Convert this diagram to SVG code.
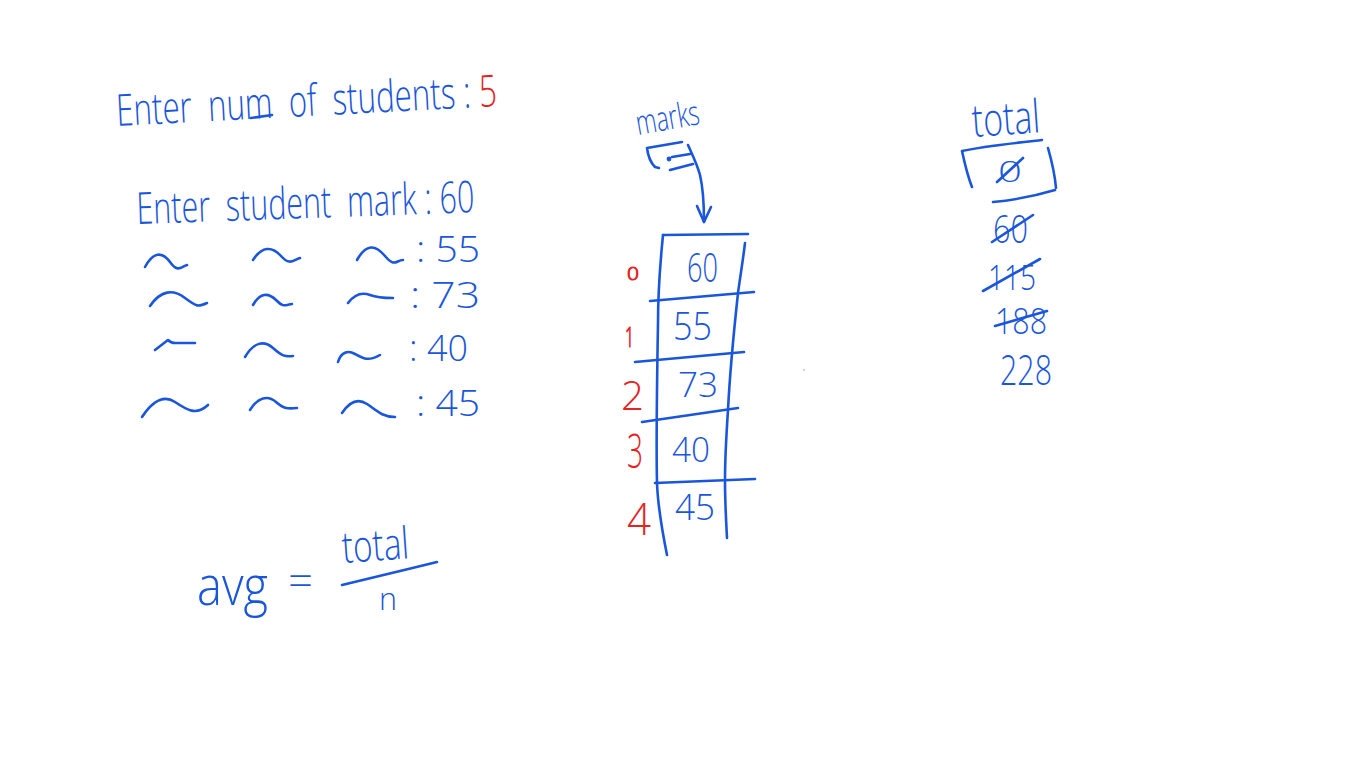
<svg xmlns="http://www.w3.org/2000/svg" width="1366" height="768" viewBox="0 0 1366 768">
<defs>
<style>
.t{font-family:"Open Sans","Liberation Sans",sans-serif;font-weight:300;fill:#1a56db}
.r{font-family:"Open Sans","Liberation Sans",sans-serif;font-weight:300;fill:#e5231f}
.s{fill:none;stroke:#1a56db;stroke-width:2.6;stroke-linecap:round;stroke-linejoin:round}
</style>
<marker id="vhead" viewBox="0 0 20 20" refX="18" refY="10" markerWidth="20" markerHeight="20" markerUnits="userSpaceOnUse" orient="auto">
<path d="M3,3 L18,10 L2,17" fill="none" stroke="#1a56db" stroke-width="2.6" stroke-linecap="round" stroke-linejoin="round"/>
</marker>
</defs>
<rect width="1366" height="768" fill="#ffffff"/>

<g id="prompt-count">
<text class="t" x="117" y="126" font-size="44" textLength="381" lengthAdjust="spacingAndGlyphs" transform="rotate(-3 117 126)">Enter&#160; num&#160; of&#160; students : <tspan class="r">5</tspan></text>
<path class="s" d="M251,118 L272,115"/>
</g>

<g id="prompt-marks">
<text class="t" x="137" y="224" font-size="44" textLength="338" lengthAdjust="spacingAndGlyphs" transform="rotate(-2 137 224)">Enter&#160; student&#160; mark : 60</text>

<path class="s" d="M145,267 C153,252 162,251 170,262 S181,267 187,265"/>
<path class="s" d="M253,260 C262,246 272,246 281,256 S293,260 300,258"/>
<path class="s" d="M357,260 C366,244 375,244 385,256 S396,260 403,260"/>
<text class="t" x="416" y="262" font-size="37" textLength="64" lengthAdjust="spacingAndGlyphs">: 55</text>

<path class="s" d="M150,306 C161,290 173,289 185,298 S198,307 207,303"/>
<path class="s" d="M253,305 C260,293 268,292 276,300 S285,305 292,304"/>
<path class="s" d="M348,303 C354,295 362,292 370,295 S385,298 393,298"/>
<text class="t" x="410" y="308" font-size="36" textLength="70" lengthAdjust="spacingAndGlyphs">: 73</text>

<path class="s" d="M155,350 L168,340 Q171,343 175,343 L195,343"/>
<path class="s" d="M245,357 C254,342 264,340 273,348 S285,357 293,356"/>
<path class="s" d="M338,362 C341,352 348,350 355,354 S368,362 380,355"/>
<text class="t" x="409" y="361" font-size="36" textLength="59" lengthAdjust="spacingAndGlyphs">: 40</text>

<path class="s" d="M142,417 C152,402 163,394 175,402 S196,416 208,405"/>
<path class="s" d="M250,410 C258,397 268,395 276,402 S288,409 297,408"/>
<path class="s" d="M342,413 C350,401 358,398 367,404 S382,417 395,417"/>
<text class="t" x="416" y="416" font-size="36" textLength="64" lengthAdjust="spacingAndGlyphs">: 45</text>
</g>

<g id="marks-pointer">
<text class="t" x="638" y="135" font-size="34" textLength="64" lengthAdjust="spacingAndGlyphs" transform="rotate(-10 638 135)">marks</text>
<path class="s" d="M647,148 L682,142 M647,148 C648,156 651,163 655,167 L659,168 M672,157 L690,154 M670,170 L693,164"/>
<circle cx="669" cy="159" r="2.4" fill="#1a56db"/>
</g>

<g id="marks-array">
<path class="s" d="M663,235 L748,234"/>
<path class="s" d="M663,235 C660,265 658,300 658,323 C657,380 656,440 657,483 C658,510 663,535 667,555"/>
<path class="s" d="M745,243 C743,260 740,278 738,293 C734,330 730,370 728,410 C726,440 725,460 725,480 C725,500 726,520 727,538"/>
<path class="s" d="M650,301 L754,292"/>
<path class="s" d="M635,362 L744,352"/>
<path class="s" d="M642,422 L738,408"/>
<path class="s" d="M655,483 L755,479"/>
<text class="t" x="687" y="282" font-size="40" textLength="31" lengthAdjust="spacingAndGlyphs">60</text>
<text class="t" x="673" y="340" font-size="38" textLength="39" lengthAdjust="spacingAndGlyphs">55</text>
<text class="t" x="678" y="397" font-size="34" textLength="40" lengthAdjust="spacingAndGlyphs">73</text>
<text class="t" x="672" y="462" font-size="35" textLength="38" lengthAdjust="spacingAndGlyphs">40</text>
<text class="t" x="675" y="520" font-size="37" textLength="40" lengthAdjust="spacingAndGlyphs">45</text>
<text class="r" x="627" y="280" font-size="19" stroke="#e5231f" stroke-width="1" textLength="12" lengthAdjust="spacingAndGlyphs">0</text>
<text class="r" x="625" y="347" font-size="27" stroke="#e5231f" stroke-width="1" textLength="9" lengthAdjust="spacingAndGlyphs">1</text>
<text class="r" x="621" y="410" font-size="41" textLength="23" lengthAdjust="spacingAndGlyphs">2</text>
<text class="r" x="627" y="468" font-size="48" textLength="16" lengthAdjust="spacingAndGlyphs">3</text>
<text class="r" x="627" y="535" font-size="44" textLength="24" lengthAdjust="spacingAndGlyphs">4</text>
</g>

<g id="total">
<text class="t" x="973" y="137" font-size="46" textLength="68" lengthAdjust="spacingAndGlyphs" transform="rotate(-4 973 137)">total</text>
<path class="s" d="M962,151 C985,146 1015,143 1042,140 M962,151 C965,165 968,177 972,187 M1048,148 C1052,162 1055,176 1056,188 M993,202 C1015,200 1035,196 1055,190"/>
<text class="t" x="998" y="182" font-size="30" textLength="24" lengthAdjust="spacingAndGlyphs">0</text>
<path class="s" d="M997,182 L1023,158"/>
<text class="t" x="993" y="243" font-size="38" textLength="35" lengthAdjust="spacingAndGlyphs">60</text>
<path class="s" d="M992,242 L1033,215"/>
<text class="t" x="988" y="290" font-size="34" textLength="48" lengthAdjust="spacingAndGlyphs">115</text>
<path class="s" d="M983,291 L1040,259"/>
<text class="t" x="995" y="334" font-size="36" textLength="52" lengthAdjust="spacingAndGlyphs">188</text>
<path class="s" d="M995,326 L1047,311"/>
<text class="t" x="1000" y="385" font-size="42" textLength="52" lengthAdjust="spacingAndGlyphs">228</text>
</g>

<g id="formula">
<text class="t" x="197" y="605" font-size="56" textLength="71" lengthAdjust="spacingAndGlyphs">avg</text>
<text class="t" x="288" y="596" font-size="44" textLength="25" lengthAdjust="spacingAndGlyphs">=</text>
<text class="t" x="343" y="563" font-size="44" textLength="67" lengthAdjust="spacingAndGlyphs" transform="rotate(-4 343 563)">total</text>
<path class="s" d="M342,585 C370,578 405,570 437,562"/>
<text class="t" x="379" y="610" font-size="32" textLength="18" lengthAdjust="spacingAndGlyphs">n</text>
</g>

<g id="connectors">
<path class="s" d="M688,145 C692,154 697,164 700,175 C703,188 704,205 704,222" marker-end="url(#vhead)"/>
</g>

<circle cx="804" cy="370" r="0.8" fill="#9a9a9a"/>
</svg>
